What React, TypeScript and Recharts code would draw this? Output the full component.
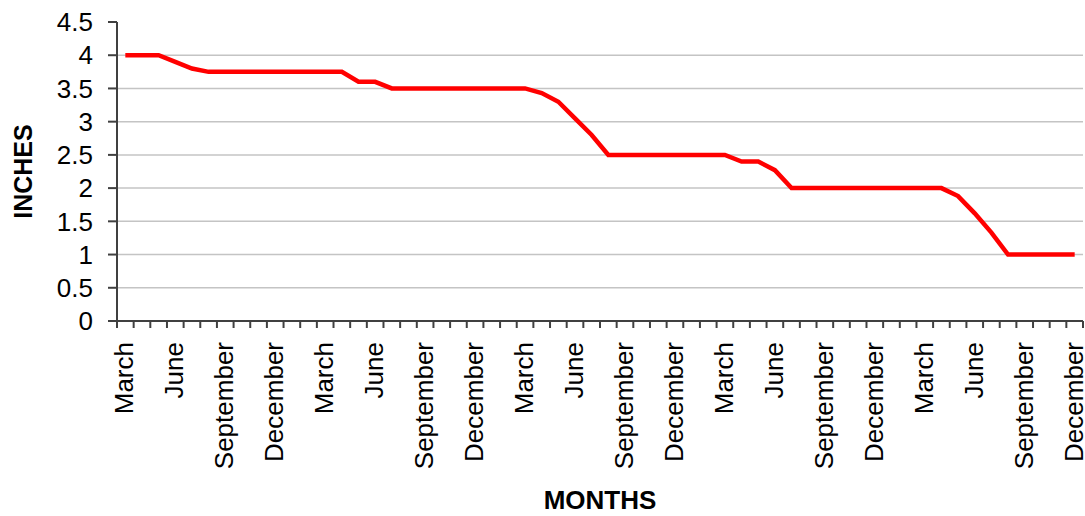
import React from "react";
import { LineChart, Line, XAxis, YAxis, CartesianGrid } from "recharts";

// months, March of year one through December of year five
const MONTHS = [
  "March", "April", "May", "June", "July", "August", "September", "October", "November", "December",
  "January", "February", "March", "April", "May", "June", "July", "August", "September", "October", "November", "December",
  "January", "February", "March", "April", "May", "June", "July", "August", "September", "October", "November", "December",
  "January", "February", "March", "April", "May", "June", "July", "August", "September", "October", "November", "December",
  "January", "February", "March", "April", "May", "June", "July", "August", "September", "October", "November", "December",
];

const INCHES = [
  4, 4, 4, 3.9, 3.8, 3.75, 3.75, 3.75, 3.75, 3.75,
  3.75, 3.75, 3.75, 3.75, 3.6, 3.6, 3.5, 3.5, 3.5, 3.5, 3.5, 3.5,
  3.5, 3.5, 3.5, 3.43, 3.3, 3.05, 2.8, 2.5, 2.5, 2.5, 2.5, 2.5,
  2.5, 2.5, 2.5, 2.4, 2.4, 2.27, 2, 2, 2, 2, 2, 2,
  2, 2, 2, 2, 1.88, 1.62, 1.33, 1, 1, 1, 1, 1,
];

const Y_TICKS = [0, 0.5, 1, 1.5, 2, 2.5, 3, 3.5, 4, 4.5];
const GRID_VALUES = [0.5, 1, 1.5, 2, 2.5, 3, 3.5, 4];

const data = MONTHS.map((month, i) => ({ month, inches: INCHES[i] }));

const W = 1085;
const H = 516;
const LEFT = 117;
const RIGHT = 2;
const BAND = (W - LEFT - RIGHT) / MONTHS.length;
const FONT = "'Liberation Sans', Arial, sans-serif";
const AXIS = "#404040";

const MonthTick = (props: any) => {
  const { x, y, index, payload } = props;
  const half = BAND / 2;
  return (
    <g>
      <line x1={x - half} x2={x - half} y1={y} y2={y + 7} stroke={AXIS} strokeWidth={2} />
      {index === MONTHS.length - 1 && (
        <line x1={x + half} x2={x + half} y1={y} y2={y + 7} stroke={AXIS} strokeWidth={2} />
      )}
      {index % 3 === 0 && (
        <text
          transform={`translate(${x + 8},${y + 21}) rotate(-90)`}
          textAnchor="end"
          fontSize={26}
          fontFamily={FONT}
          fill="#000"
        >
          {payload.value}
        </text>
      )}
    </g>
  );
};

export default function App() {
  return (
    <div style={{ position: "absolute", left: 0, top: 0, background: "#fff" }}>
      <LineChart width={W} height={H} data={data} margin={{ top: 22, right: RIGHT, left: 0, bottom: 0 }}>
        <CartesianGrid vertical={false} horizontalValues={GRID_VALUES} stroke="#c4c4c4" strokeWidth={1.5} />
        <XAxis
          dataKey="month"
          interval={0}
          height={195}
          padding={{ left: BAND / 2, right: BAND / 2 }}
          tickSize={0}
          tickMargin={0}
          tickLine={false}
          axisLine={{ stroke: AXIS, strokeWidth: 2 }}
          tick={<MonthTick />}
          label={{
            content: ({ viewBox }: any) => (
              <text
                x={viewBox.x + viewBox.width / 2}
                y={509}
                textAnchor="middle"
                fontSize={26}
                fontWeight="bold"
                fontFamily={FONT}
                fill="#000"
              >
                MONTHS
              </text>
            ),
          }}
        />
        <YAxis
          width={LEFT}
          domain={[0, 4.5]}
          ticks={Y_TICKS}
          interval={0}
          tickSize={9}
          tickMargin={15}
          axisLine={{ stroke: AXIS, strokeWidth: 2 }}
          tickLine={{ stroke: AXIS, strokeWidth: 2 }}
          tick={{ fontSize: 26, fontFamily: FONT, fill: "#000" }}
          label={{
            content: ({ viewBox }: any) => {
              const cx = 23;
              const cy = viewBox.y + viewBox.height / 2;
              return (
                <text
                  x={cx}
                  y={cy}
                  transform={`rotate(-90, ${cx}, ${cy})`}
                  textAnchor="middle"
                  dominantBaseline="central"
                  fontSize={25}
                  fontWeight="bold"
                  fontFamily={FONT}
                  fill="#000"
                >
                  INCHES
                </text>
              );
            },
          }}
        />
        <Line
          type="linear"
          dataKey="inches"
          stroke="#ff0000"
          strokeWidth={4.5}
          dot={false}
          activeDot={false}
          isAnimationActive={false}
        />
      </LineChart>
    </div>
  );
}
